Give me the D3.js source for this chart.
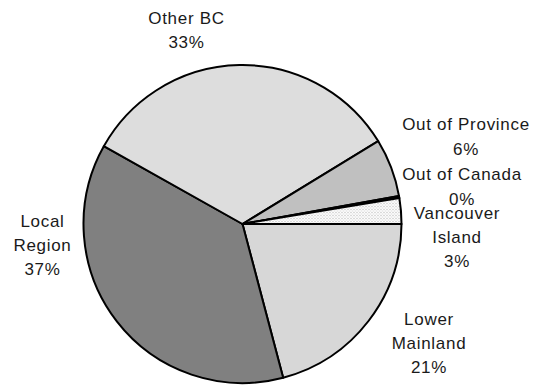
<!DOCTYPE html>
<html><head><meta charset="utf-8">
<script src="https://cdn.jsdelivr.net/npm/d3@7"></script>
<style>html,body{margin:0;padding:0;background:#fff;}svg{display:block;}</style>
</head><body>
<script>
// Data (clockwise from 3 o'clock)
const categories = ["Lower Mainland", "Local Region", "Other BC", "Out of Province", "Out of Canada", "Vancouver Island"];
const values = [20.8, 37.1, 33.0, 5.9, 0.2, 2.6];
const percentLabels = ["21%", "37%", "33%", "6%", "0%", "3%"];
const labelLines = [["Lower", "Mainland"], ["Local", "Region"], ["Other BC"], ["Out of Province"], ["Out of Canada"], ["Vancouver", "Island"]];

// Layout
const W = 533, H = 385;
const cx = 242.5, cy = 224, R = 159;
const fills = ["url(#patLM)", "#808080", "url(#patOBC)", "#c0c0c0", "#000000", "url(#patVI)"];
const labelPos = [
  {x: 429, y: 318.5, dy: 24},
  {x: 42.5, y: 220.5, dy: 24.3},
  {x: 186.5, y: 18, dy: 24},
  {x: 466, y: 124, dy: 25},
  {x: 462, y: 174, dy: 25},
  {x: 457, y: 212.5, dy: 24.2}
];

const svg = d3.select("body").append("svg").attr("width", W).attr("height", H);
const defs = svg.append("defs");
function checker(id, bg, fg, size) {
  const p = defs.append("pattern").attr("id", id).attr("patternUnits", "userSpaceOnUse")
    .attr("width", size).attr("height", size);
  p.append("rect").attr("width", size).attr("height", size).attr("fill", bg);
  p.append("rect").attr("width", 1).attr("height", 1).attr("fill", fg);
  p.append("rect").attr("x", size / 2).attr("y", size / 2).attr("width", 1).attr("height", 1).attr("fill", fg);
}
checker("patOBC", "#ececec", "#cdcdcd", 2);
checker("patLM", "#e6e6e6", "#c8c8c8", 2);
checker("patVI", "#ffffff", "#b4b4b4", 3);

const pie = d3.pie().sort(null).value(d => d)
  .startAngle(Math.PI / 2).endAngle(Math.PI / 2 + 2 * Math.PI);
const arcs = pie(values);
const arc = d3.arc().innerRadius(0).outerRadius(R);

const g = svg.append("g").attr("transform", `translate(${cx},${cy})`);
g.selectAll("path").data(arcs).join("path")
  .attr("d", arc)
  .attr("fill", (d, i) => fills[i])
  .attr("stroke", "#000")
  .attr("stroke-width", 2)
  .attr("stroke-linejoin", "round");

const lab = svg.append("g")
  .attr("font-family", "'Liberation Sans', Arial, sans-serif")
  .attr("font-size", 17)
  .attr("letter-spacing", 0.7)
  .attr("fill", "#1a1a1a")
  .attr("text-anchor", "middle");
categories.forEach((c, i) => {
  const lines = labelLines[i].concat([percentLabels[i]]);
  const p = labelPos[i];
  lines.forEach((t, j) => {
    lab.append("text").attr("x", p.x).attr("y", p.y + j * p.dy + 6).text(t);
  });
});
</script>
</body></html>
